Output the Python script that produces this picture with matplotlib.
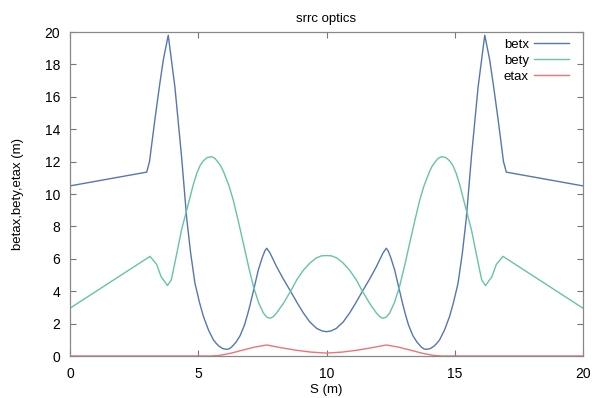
import matplotlib
matplotlib.use("Agg")
import matplotlib.pyplot as plt

plt.rcParams['font.family'] = ['Liberation Sans', 'DejaVu Sans']

s_betx = [0.0, 2.99, 3.1, 3.31, 3.5, 3.64, 3.83, 4.09, 4.35, 4.55, 4.7, 4.87, 5.05, 5.2, 5.4, 5.59,
          5.7, 5.8, 5.95, 6.11, 6.2, 6.3, 6.47, 6.63, 6.8, 6.92, 7.02, 7.2, 7.34, 7.5, 7.6, 7.67,
          7.8, 8.06, 8.3, 8.58, 8.85, 9.1, 9.35, 9.62, 9.82, 10.0,
          10.18, 10.38, 10.65, 10.9, 11.15, 11.42, 11.7, 11.94, 12.2, 12.33, 12.4, 12.5, 12.66,
          12.8, 12.98, 13.08, 13.2, 13.37, 13.53, 13.7, 13.8, 13.89, 14.05, 14.2, 14.3, 14.41,
          14.6, 14.8, 14.95, 15.13, 15.3, 15.45, 15.65, 15.91, 16.17, 16.36, 16.5, 16.69, 16.9,
          17.01, 20.0]
betx = [10.5, 11.35, 12.0, 14.6, 16.8, 18.3, 19.8, 16.6, 12.3, 8.5, 6.4, 4.5, 3.3, 2.45, 1.6, 1.0,
        0.78, 0.62, 0.46, 0.41, 0.44, 0.55, 0.85, 1.25, 1.9, 2.55, 3.15, 4.35, 5.3, 6.1, 6.5, 6.65,
        6.35, 5.5, 4.8, 4.05, 3.3, 2.65, 2.1, 1.7, 1.55, 1.5,
        1.55, 1.7, 2.1, 2.65, 3.3, 4.05, 4.8, 5.5, 6.35, 6.65, 6.5, 6.1, 5.3,
        4.35, 3.15, 2.55, 1.9, 1.25, 0.85, 0.55, 0.44, 0.41, 0.46, 0.62, 0.78, 1.0,
        1.6, 2.45, 3.3, 4.5, 6.4, 8.5, 12.3, 16.6, 19.8, 18.3, 16.8, 14.6, 12.0,
        11.35, 10.5]

s_bety = [0.0, 3.12, 3.25, 3.38, 3.55, 3.8, 3.95, 4.16, 4.35, 4.55, 4.81, 4.95, 5.07, 5.2, 5.35,
          5.52, 5.65, 5.75, 5.87, 5.98, 6.2, 6.37, 6.55, 6.76, 6.95, 7.15, 7.35, 7.54, 7.67, 7.8,
          7.92, 8.05, 8.32, 8.6, 8.84, 9.1, 9.36, 9.6, 9.8, 10.0,
          10.2, 10.4, 10.64, 10.9, 11.16, 11.4, 11.68, 11.95, 12.08, 12.2, 12.33, 12.46, 12.65,
          12.85, 13.05, 13.24, 13.45, 13.63, 13.8, 14.02, 14.13, 14.25, 14.35, 14.48, 14.65,
          14.8, 14.93, 15.05, 15.19, 15.45, 15.65, 15.84, 16.05, 16.2, 16.45, 16.62, 16.75,
          16.88, 20.0]
bety = [2.95, 6.15, 5.9, 5.65, 4.9, 4.35, 4.7, 6.3, 7.8, 9.0, 10.6, 11.3, 11.75, 12.05, 12.25,
        12.3, 12.2, 12.0, 11.75, 11.4, 10.5, 9.6, 8.4, 6.95, 5.6, 4.3, 3.3, 2.65, 2.4, 2.33,
        2.42, 2.65, 3.25, 4.0, 4.7, 5.3, 5.75, 6.05, 6.18, 6.2,
        6.18, 6.05, 5.75, 5.3, 4.7, 4.0, 3.25, 2.65, 2.42, 2.33, 2.4, 2.65, 3.3,
        4.3, 5.6, 6.95, 8.4, 9.6, 10.5, 11.4, 11.75, 12.0, 12.2, 12.3, 12.25,
        12.05, 11.75, 11.3, 10.6, 9.0, 7.8, 6.3, 4.7, 4.35, 4.9, 5.65, 5.9,
        6.15, 2.95]

s_etax = [0.0, 5.5, 5.8, 6.24, 6.7, 7.2, 7.67, 8.2, 8.84, 9.4, 10.0,
          10.6, 11.16, 11.8, 12.33, 12.8, 13.3, 13.76, 14.2, 14.5, 20.0]
etax = [0.0, 0.0, 0.03, 0.16, 0.35, 0.55, 0.68, 0.52, 0.35, 0.24, 0.18,
        0.24, 0.35, 0.52, 0.68, 0.55, 0.35, 0.16, 0.03, 0.0, 0.0]

x_ticks = [0, 5, 10, 15, 20]
y_ticks = [0, 2, 4, 6, 8, 10, 12, 14, 16, 18, 20]

fig = plt.figure(figsize=(5.95, 3.98), dpi=100)
ax = fig.add_axes([70/595, 1-356/398, (583-70)/595, (356-32)/398])

ax.plot(s_betx, betx, color='#5676b0', lw=1.0, label='betx')
ax.plot(s_bety, bety, color='#66c4a4', lw=1.0, label='bety')
ax.plot(s_etax, etax, color='#ee7474', lw=1.0, label='etax')

ax.set_xlim(0, 20)
ax.set_ylim(0, 20)
ax.set_xticks(x_ticks)
ax.set_yticks(y_ticks)
ax.tick_params(axis='both', direction='in', length=4, width=0.8, top=True, right=True,
               labelsize=10, color='#777777')
ax.tick_params(axis='x', pad=8)
ax.tick_params(axis='y', pad=7)
for sp in ax.spines.values():
    sp.set_color('#888888')
    sp.set_linewidth(0.9)

ax.set_xlabel('S (m)', fontsize=9.5, labelpad=2)
ax.set_ylabel('betax,bety,etax (m)', fontsize=9.5, labelpad=15)
ax.set_title('srrc optics', fontsize=9.5, pad=7)

leg = ax.legend(loc='upper right', frameon=False, markerfirst=False, fontsize=9.5,
                handlelength=2.65, handletextpad=0.4, labelspacing=0.3, borderaxespad=0.2,
                bbox_to_anchor=(0.988, 1.005))

fig.savefig('out.png', dpi=100)
